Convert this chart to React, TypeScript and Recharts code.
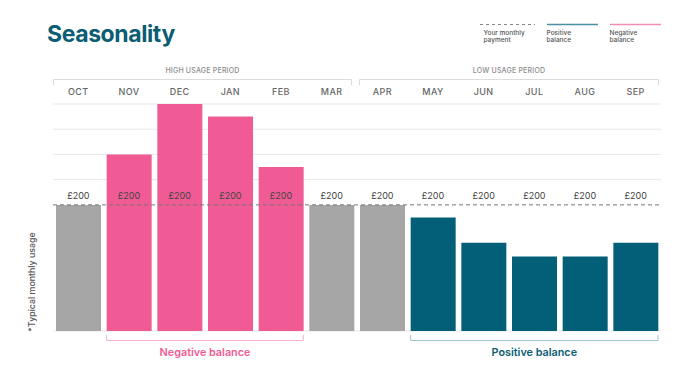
import React from 'react';
import { Bar, Cell, XAxis, YAxis, CartesianGrid, ReferenceLine, Line, LabelList, ComposedChart } from 'recharts';

const months = ['OCT', 'NOV', 'DEC', 'JAN', 'FEB', 'MAR', 'APR', 'MAY', 'JUN', 'JUL', 'AUG', 'SEP'];
const usage = [200, 280, 360, 340, 260, 200, 200, 180, 140, 118, 118, 140];
const payment = [200, 200, 200, 200, 200, 200, 200, 200, 200, 200, 200, 200];
const balanceType = ['neutral', 'negative', 'negative', 'negative', 'negative', 'neutral', 'neutral', 'positive', 'positive', 'positive', 'positive', 'positive'];
const gridTicks = [240, 280, 320, 360];
const paymentValue = 200;

const COLORS: Record<string, string> = {
  neutral: '#a6a6a6',
  negative: '#f05b95',
  positive: '#035f78',
};

const data = months.map((m, i) => ({ month: m, usage: usage[i], payment: payment[i], type: balanceType[i] }));

const W = 688;
const H = 371;
const L = 53;
const R = 661;
const T = 104;
const B = 331;
const band = (R - L) / months.length;
const FONT = 'Inter, "Noto Sans", sans-serif';

export default function App() {
  const hiStart = L;
  const hiEnd = L + 6 * band - 5;
  const loStart = L + 6 * band + 2;
  const loEnd = R - 2;
  const negStart = L + 1 * band + 3;
  const negEnd = L + 5 * band - 3;
  const posStart = L + 7 * band + 3;
  const posEnd = R - 3;
  return (
    <div style={{ position: 'absolute', left: 0, top: 0, width: W, height: H, background: '#fff', fontFamily: FONT }}>
      <ComposedChart
        width={W}
        height={H}
        data={data}
        margin={{ top: T - 30, right: W - R, bottom: H - B, left: L }}
      >
        <CartesianGrid vertical={false} stroke="#e8e8e8" strokeWidth={1} />
        <XAxis
          dataKey="month"
          orientation="top"
          height={30}
          tickLine={false}
          axisLine={false}
          tickMargin={3}
          interval={0}
          tick={{ fill: '#666', fontSize: 9, fontWeight: 500, fontFamily: FONT, letterSpacing: 0.4 }}
        />
        <YAxis hide domain={[0, 360]} ticks={gridTicks} />
        <Bar dataKey="usage" barSize={45} isAnimationActive={false}>
          {data.map((d, i) => (
            <Cell key={i} fill={COLORS[d.type]} />
          ))}
        </Bar>
        <ReferenceLine y={paymentValue} stroke="#777" strokeDasharray="4 3" strokeWidth={1} />
        <Line dataKey="payment" stroke="none" dot={false} activeDot={false} isAnimationActive={false}>
          <LabelList
            dataKey="payment"
            position="top"
            offset={6}
            formatter={(v: number) => `£${v}`}
            style={{ fill: '#444', fontSize: 9, fontFamily: FONT }}
          />
        </Line>
      </ComposedChart>
      <svg width={W} height={H} style={{ position: 'absolute', left: 0, top: 0, pointerEvents: 'none' }}>
        <text x={47} y={42} fill="#0b5d73" fontSize={23} fontWeight={700} letterSpacing={-0.4} fontFamily={FONT}>
          Seasonality
        </text>
        {/* legend */}
        <line x1={480} y1={24.5} x2={535} y2={24.5} stroke="#888" strokeDasharray="3 3" strokeWidth={1} />
        <text x={483.5} y={34.5} fill="#555" fontSize={6.5} fontWeight={500} fontFamily={FONT}>Your monthly</text>
        <text x={483.5} y={41.5} fill="#555" fontSize={6.5} fontWeight={500} fontFamily={FONT}>payment</text>
        <line x1={547} y1={24.5} x2={598} y2={24.5} stroke="#4b8fa3" strokeWidth={1.6} />
        <text x={546.5} y={34.5} fill="#555" fontSize={6.5} fontWeight={500} fontFamily={FONT}>Positive</text>
        <text x={546.5} y={41.5} fill="#555" fontSize={6.5} fontWeight={500} fontFamily={FONT}>balance</text>
        <line x1={610} y1={24.5} x2={661} y2={24.5} stroke="#f48db5" strokeWidth={1.6} />
        <text x={609.5} y={34.5} fill="#555" fontSize={6.5} fontWeight={500} fontFamily={FONT}>Negative</text>
        <text x={609.5} y={41.5} fill="#555" fontSize={6.5} fontWeight={500} fontFamily={FONT}>balance</text>
        {/* period brackets */}
        <path d={`M${hiStart + 0.5},85 V79.5 H${hiEnd - 0.5} V85`} fill="none" stroke="#dcdcdc" strokeWidth={1} />
        <path d={`M${loStart + 0.5},85 V79.5 H${loEnd - 0.5} V85`} fill="none" stroke="#dcdcdc" strokeWidth={1} />
        <text x={(hiStart + hiEnd) / 2} y={73} textAnchor="middle" fill="#8a8a8a" fontSize={7} fontWeight={500} letterSpacing={0.2} fontFamily={FONT}>HIGH USAGE PERIOD</text>
        <text x={(loStart + loEnd) / 2} y={73} textAnchor="middle" fill="#8a8a8a" fontSize={7} fontWeight={500} letterSpacing={0.2} fontFamily={FONT}>LOW USAGE PERIOD</text>
        {/* balance brackets */}
        <path d={`M${negStart},335 V340.5 H${negEnd} V335`} fill="none" stroke="#f7b3cd" strokeWidth={1} />
        <path d={`M${posStart},335 V340.5 H${posEnd} V335`} fill="none" stroke="#9cc3cf" strokeWidth={1} />
        <text x={(negStart + negEnd) / 2} y={356} textAnchor="middle" fill="#f05b95" fontSize={10.8} fontWeight={600} fontFamily={FONT}>Negative balance</text>
        <text x={(posStart + posEnd) / 2} y={356} textAnchor="middle" fill="#0b5d73" fontSize={10.8} fontWeight={600} fontFamily={FONT}>Positive balance</text>
        {/* y label */}
        <text transform="translate(35,282) rotate(-90)" textAnchor="middle" fill="#555" fontSize={8.8} fontWeight={500} fontFamily={FONT}>*Typical monthly usage</text>
      </svg>
    </div>
  );
}
